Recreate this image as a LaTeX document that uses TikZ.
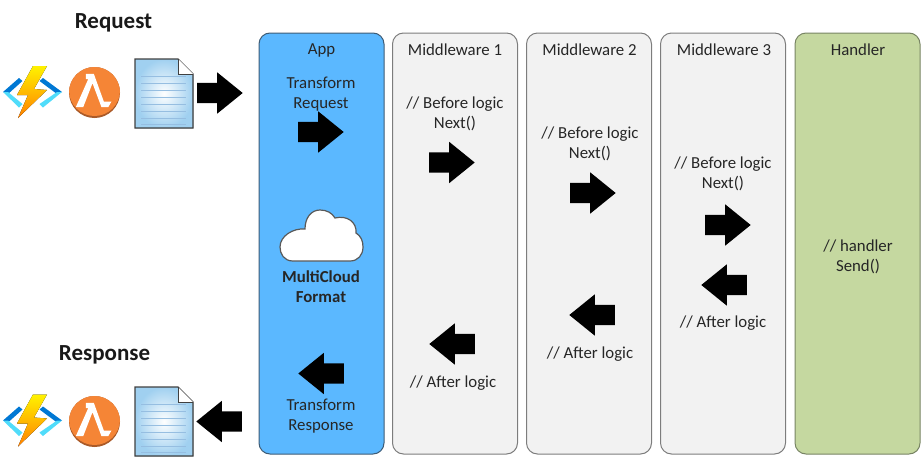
\documentclass[tikz,border=0pt]{standalone}
\usepackage{fontspec}
\setmainfont{Carlito}
\usetikzlibrary{shapes.arrows}
\definecolor{appcol}{RGB}{91,184,255}
\definecolor{appline}{RGB}{62,92,118}
\definecolor{midcol}{RGB}{242,242,242}
\definecolor{midline}{RGB}{125,125,125}
\definecolor{hancol}{RGB}{197,216,160}
\definecolor{hanline}{RGB}{120,132,100}
\definecolor{awscol}{RGB}{245,133,54}
\definecolor{awsdark}{RGB}{170,90,40}
\definecolor{azdark}{RGB}{0,120,212}
\definecolor{azlight}{RGB}{80,220,250}
\definecolor{docblue}{RGB}{160,208,240}
\definecolor{docline}{RGB}{150,190,225}
\tikzset{column/.style={draw,rounded corners=11,line width=1,minimum width=125,minimum height=421,inner sep=0}}
\tikzset{label/.style={inner sep=0,align=center,font=\fontsize{16.8}{20}\selectfont,text=black!85}}
\tikzset{boldlabel/.style={label,font=\fontsize{16.8}{20}\selectfont\bfseries}}
\tikzset{title/.style={inner sep=0,font=\fontsize{23}{26}\selectfont\bfseries,text=black!90}}
\tikzset{flow/.style={single arrow,fill=black,inner sep=0,text height=20,text depth=0,minimum width=41,minimum height=45.5,single arrow head extend=10.5,single arrow tip angle=78,anchor=tail}}
\tikzset{back/.style={flow,shape border rotate=180}}
\tikzset{pics/azureicon/.style={code={
  \fill [azdark] (-14,-15) -- (-10.5,-12) -- (-25,1) -- (-30,-1) -- cycle;
  \fill [azlight] (-30,-1) -- (-25,-1) -- (-10.5,11) -- (-14,14.5) -- cycle;
  \fill [azdark] (10,-15) -- (6.5,-12) -- (24,1) -- (29,-1) -- cycle;
  \fill [azlight] (29,-1) -- (24,-1) -- (6.5,11) -- (10,14.5) -- cycle;
  \fill [top color=yellow!90!orange,bottom color=orange] (0,-27) -- (14,-27) -- (1,-4) -- (14,-3) -- (-15,25) -- (-5,2) -- (-16,2) -- cycle;
}}}
\tikzset{pics/lambdaicon/.style={code={
  \fill [awsdark] (0,0) circle (25.5);
  \begin{scope}
  \clip (0,0) circle (25.5);
  \fill [awscol] (0,-2) circle (25.5);
  \end{scope}
  \fill [white] (-8.7,-18.7) -- (-0.7,-18.7) -- (9.3,9) -- (17,9) -- (13.7,14.7) -- (7,14.7) -- (-2,-9.3) -- (-11.3,14.7) -- (-18.7,14.7) -- (-6.3,-13.3) -- (-8.7,-13.3) -- cycle;
}}}
\tikzset{pics/docicon/.style={code={
  \fill [inner color=white,outer color=docblue] (0,0) -- (43,0) -- (58,15) -- (58,69) -- (0,69) -- cycle;
  \foreach \y in {17,24,31,38,45,52,59,65} {
    \draw [docline,line width=.7] (6,\y) -- (51,\y);
  }
  \draw [black!75,line width=1.3] (0,0) -- (43,0) -- (58,15) -- (58,69) -- (0,69) -- cycle;
  \fill [white] (43,0) -- (58,15) -- (43,15) -- cycle;
  \draw [black!75,line width=.8] (43,0) -- (43,15) -- (58,15);
}}}
\begin{document}
\begin{tikzpicture}[x=1pt,y=-1pt]
\useasboundingbox (0,0) rectangle (923,458);

\node [column,fill=appcol,draw=appline] (app) at (321.5,243.5) {};
\node [column,fill=midcol,draw=midline] (mw1) at (455,243.5) {};
\node [column,fill=midcol,draw=midline] (mw2) at (589,243.5) {};
\node [column,fill=midcol,draw=midline] (mw3) at (723,243.5) {};
\node [column,fill=hancol,draw=hanline] (handler) at (857.5,243.5) {};

\node [title] (request) at (113.5,23) {Request};
\node [title] (response) at (104.5,355) {Response};

\node [label] (applabel) at (321.5,50) {App};
\node [label] (mw1label) at (455,50) {Middleware 1};
\node [label] (mw2label) at (589.5,50) {Middleware 2};
\node [label] (mw3label) at (724,50) {Middleware 3};
\node [label] (handlerlabel) at (858,50) {Handler};

\node [label] (treq) at (321,94) {Transform\\Request};
\node [boldlabel] (format) at (321,287) {MultiCloud\\Format};
\node [label] (tres) at (321,416) {Transform\\Response};

\node [label] (before1) at (455,114) {// Before logic\\Next()};
\node [label] (before2) at (590,144) {// Before logic\\Next()};
\node [label] (before3) at (723,174) {// Before logic\\Next()};

\node [label] (after1) at (453,383) {// After logic};
\node [label] (after2) at (590,354) {// After logic};
\node [label] (after3) at (723,323) {// After logic};

\node [label] (send) at (858,257) {// handler\\Send()};

\node [flow] (a0) at (197,93) {};
\node [flow] (a1) at (298,132) {};
\node [flow] (a2) at (429,162.5) {};
\node [flow] (a3) at (570,193) {};
\node [flow] (a4) at (705,225) {};

\node [back] (b4) at (747,285) {};
\node [back] (b3) at (615,315) {};
\node [back] (b2) at (475,344) {};
\node [back] (b1) at (344,373.5) {};
\node [back] (b0) at (242,421.5) {};

\draw [fill=white,draw=black!65,line width=1.2] (293,261) .. controls (284,261) and (280,254) .. (280,247)
  .. controls (280,236) and (293,228) .. (305,229)
  .. controls (305,218) and (311,210) .. (320,210)
  .. controls (327,210) and (332,213) .. (335,218)
  .. controls (347,215) and (357,222) .. (356,233)
  .. controls (361,236) and (363,241) .. (363,247)
  .. controls (363,255) and (358,261) .. (350,261) -- cycle;

\pic at (33,93) {azureicon};
\pic at (94.5,92.5) {lambdaicon};
\pic at (135,59) {docicon};

\pic at (33,421.5) {azureicon};
\pic at (94.5,421.5) {lambdaicon};
\pic at (135,387) {docicon};
\end{tikzpicture}
\end{document}
